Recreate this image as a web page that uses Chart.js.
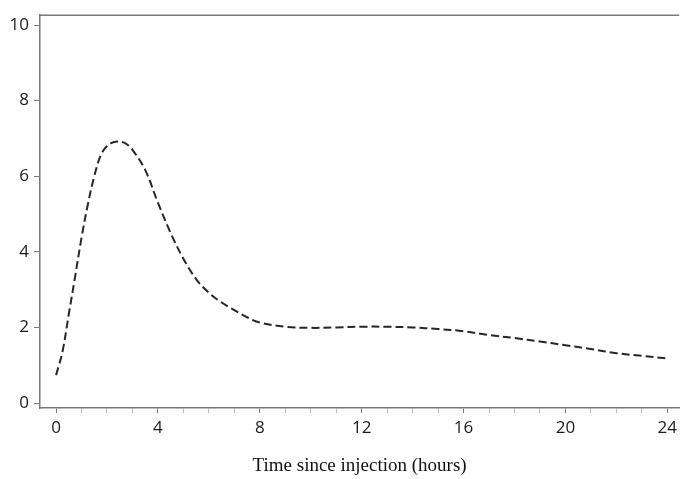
<!DOCTYPE html>
<html>
<head>
<meta charset="utf-8">
<script src="https://cdn.jsdelivr.net/npm/chart.js@4"></script>
<style>
  html, body { margin: 0; padding: 0; background: #fff; }
  #wrap { width: 682px; height: 479px; }
</style>
</head>
<body>
<div id="wrap"><canvas id="chart"></canvas></div>
<script>
// hours since injection and the curve
const hours = [0, 0.25, 0.5, 0.75, 1, 1.25, 1.5, 1.75, 2, 2.25, 2.5, 2.75, 3, 3.5, 4, 4.5, 5, 5.5, 6, 6.5, 7, 7.5, 8,
    9, 10, 11, 12, 13, 14, 15, 16, 17, 18, 19, 20, 21, 22, 23, 24];
const level = [0.74, 1.35, 2.35, 3.35, 4.37, 5.26, 6.0, 6.55, 6.8, 6.9, 6.92, 6.86, 6.7, 6.17, 5.3, 4.5, 3.82, 3.28, 2.92, 2.66, 2.46, 2.27, 2.13,
    2.02, 1.99, 2.0, 2.02, 2.02, 2.0, 1.96, 1.9, 1.8, 1.72, 1.63, 1.53, 1.43, 1.32, 1.25, 1.18];
const xTicks = [0, 1, 2, 3, 4, 5, 6, 7, 8, 9, 10, 11, 12, 13, 14, 15, 16, 17, 18, 19, 20, 21, 22, 23, 24];
const yTicks = [0, 2, 4, 6, 8, 10];
const xTitle = "Time since injection (hours)";

const axisColor = "#7a7a7a";

// top edge of the plot box
const frame = {
    id: "frame",
    afterDraw(chart) {
        const { ctx, chartArea } = chart;
        ctx.save();
        ctx.strokeStyle = axisColor;
        ctx.lineWidth = 1.5;
        ctx.beginPath();
        ctx.moveTo(chartArea.left, chartArea.top);
        ctx.lineTo(chartArea.right, chartArea.top);
        ctx.stroke();
        ctx.restore();
    }
};

new Chart(document.getElementById("chart"), {
    type: "line",
    data: {
        datasets: [{
            data: hours.map((h, i) => ({ x: h, y: level[i] })),
            borderColor: "#262626",
            borderWidth: 2,
            borderDash: [8, 4],
            pointRadius: 0,
            tension: 0.35,
            fill: false
        }]
    },
    options: {
        responsive: true,
        maintainAspectRatio: false,
        animation: false,
        layout: { padding: { top: 13, right: 0, left: 0, bottom: 0 } },
        plugins: { legend: { display: false }, tooltip: { enabled: false } },
        scales: {
            x: {
                type: "linear",
                min: -0.63,
                max: 24.47,
                afterBuildTicks: s => { s.ticks = xTicks.map(v => ({ value: v })); },
                afterFit: s => { s.height = 71; },
                border: { color: axisColor, width: 1.5 },
                grid: {
                    drawOnChartArea: false,
                    tickLength: 5,
                    tickColor: c => (c.tick && c.tick.value % 4 === 0) ? axisColor : "#bdbdbd"
                },
                ticks: {
                    padding: 5,
                    color: "#1a1a1a",
                    font: { family: "'Open Sans', sans-serif", size: 17 },
                    maxRotation: 0,
                    autoSkip: false,
                    callback: v => (v % 4 === 0 ? String(v) : "")
                },
                title: {
                    display: true,
                    text: xTitle,
                    color: "#111",
                    font: { family: "'Liberation Serif', serif", size: 19 },
                    padding: { top: 0, bottom: 2 }
                }
            },
            y: {
                type: "linear",
                min: -0.13,
                max: 10.26,
                afterBuildTicks: s => { s.ticks = yTicks.map(v => ({ value: v })); },
                afterFit: s => { s.width = 40; },
                border: { color: axisColor, width: 1.5 },
                grid: { drawOnChartArea: false, tickLength: 6, tickColor: axisColor },
                ticks: {
                    padding: 5,
                    color: "#1a1a1a",
                    font: { family: "'Open Sans', sans-serif", size: 17 }
                }
            }
        }
    },
    plugins: [frame]
});
</script>
</body>
</html>
